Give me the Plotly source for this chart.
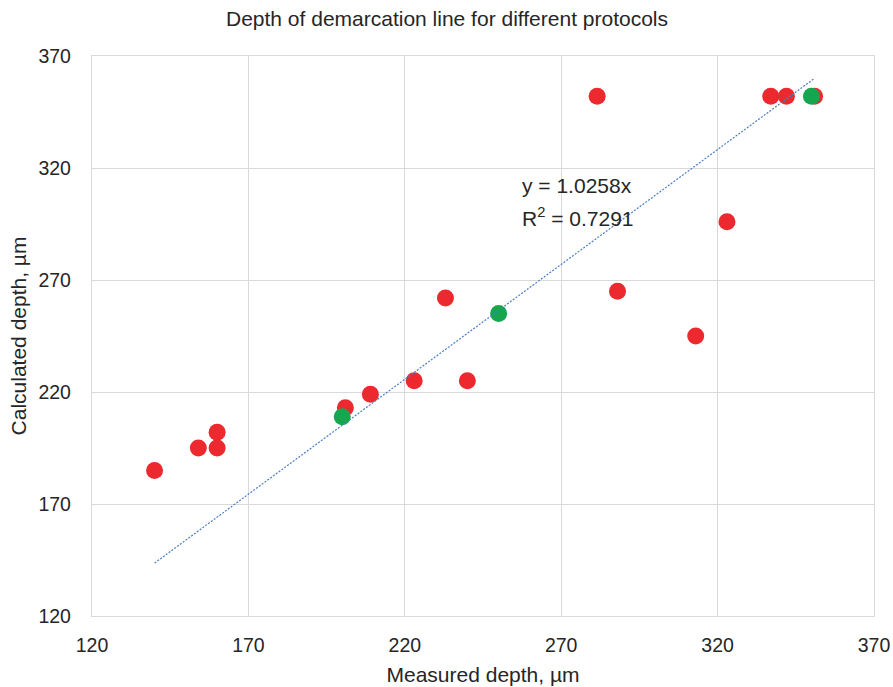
import plotly.graph_objects as go

# Measured vs. calculated demarcation-line depth (µm)
red_measured = [140, 154, 160, 160, 201, 209, 223, 240, 233, 288, 281.5, 337, 342, 351, 323, 313]
red_calculated = [185, 195, 195, 202, 213, 219, 225, 225, 262, 265, 352, 352, 352, 352, 296, 245]

green_measured = [200, 250, 350]
green_calculated = [209, 255, 352]

# Linear trend forced through the origin
trend_slope = 1.0258
trend_r2 = 0.7291
all_measured = red_measured + green_measured
trend_x = [min(all_measured), max(all_measured)]
trend_y = [trend_slope * v for v in trend_x]

tick_values = [120, 170, 220, 270, 320, 370]

FONT = "Arial, Liberation Sans, Helvetica, sans-serif"
TEXT = "#262626"
GRID = "#D9D9D9"

fig = go.Figure()
fig.add_trace(go.Scatter(
    x=red_measured, y=red_calculated, mode="markers",
    marker=dict(size=17, color="#EC292F", line=dict(width=0)),
    showlegend=False, hoverinfo="x+y",
))
fig.add_trace(go.Scatter(
    x=green_measured, y=green_calculated, mode="markers",
    marker=dict(size=17, color="#15A64F", line=dict(width=0)),
    showlegend=False, hoverinfo="x+y",
))
fig.add_trace(go.Scatter(
    x=trend_x, y=trend_y, mode="lines",
    line=dict(color="#4A7CC8", width=1.2, dash="2px,1.5px"),
    showlegend=False, hoverinfo="skip",
))

fig.add_annotation(
    x=256.7, y=312.2, xref="x", yref="y", text=f"y = {trend_slope:.4f}x",
    showarrow=False, xanchor="left", yanchor="middle",
    font=dict(family=FONT, size=21, color=TEXT),
)
fig.add_annotation(
    x=256.7, y=298.3, xref="x", yref="y", text=f"R<sup>2</sup> = {trend_r2:.4f}",
    showarrow=False, xanchor="left", yanchor="middle",
    font=dict(family=FONT, size=21, color=TEXT),
)

axis_common = dict(
    range=[120, 370], tickvals=tick_values,
    showgrid=True, gridcolor=GRID, gridwidth=1.3,
    showline=True, linecolor=GRID, linewidth=1.3, mirror=True,
    zeroline=False, ticks="", automargin=False,
    tickfont=dict(family=FONT, size=19.5, color=TEXT),
)

fig.update_layout(
    width=893, height=687,
    margin=dict(l=92, r=19, t=56, b=71),
    paper_bgcolor="white", plot_bgcolor="white",
    title=dict(
        text="Depth of demarcation line for different protocols",
        x=447 / 893, xanchor="center", xref="container",
        y=1 - 19 / 687, yanchor="middle", yref="container",
        font=dict(family=FONT, size=21, color=TEXT),
    ),
    xaxis=dict(
        **axis_common,
        ticklabelstandoff=11,
        title=dict(text="Measured depth, µm", standoff=12,
                   font=dict(family=FONT, size=21, color=TEXT)),
    ),
    yaxis=dict(
        **axis_common,
        ticklabelstandoff=16,
        title=dict(text="Calculated depth, µm", standoff=6,
                   font=dict(family=FONT, size=21, color=TEXT)),
    ),
)

fig.write_html("out.html")
